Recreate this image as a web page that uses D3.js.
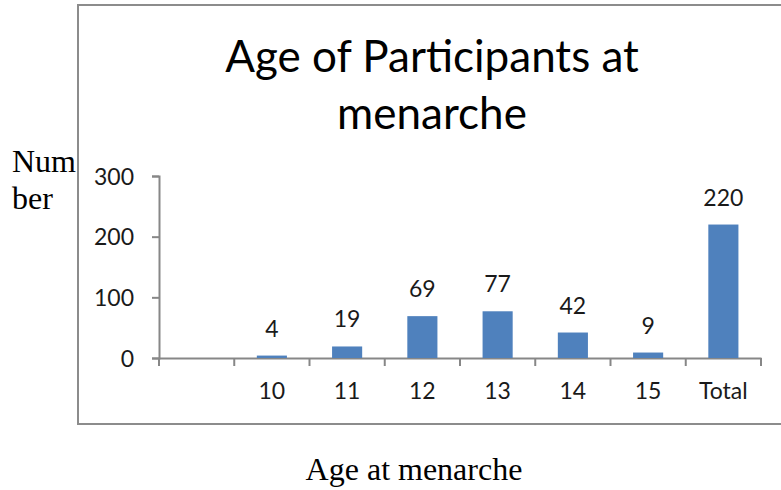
<!DOCTYPE html>
<html>
<head>
<meta charset="utf-8">
<script src="https://cdn.jsdelivr.net/npm/d3@7"></script>
<style>
  body { margin: 0; background: #fff; }
  svg { display: block; }
  .tick text { font-family: Lato, "Open Sans", sans-serif; fill: #1a1a1a; }
</style>
</head>
<body>
<div id="chart"></div>
<script>
"use strict";

// chart values
const categories = ["", "10", "11", "12", "13", "14", "15", "Total"];
const counts = [null, 4, 19, 69, 77, 42, 9, 220];
const yTicks = [0, 100, 200, 300];
const titleLines = ["Age of Participants at", "menarche"];
const yLabelLines = ["Num", "ber"];
const xLabel = "Age at menarche";

const W = 781, H = 490;
const axisColor = "#878787";
const barColor = "#4f81bd";

const svg = d3.select("#chart")
    .append("svg")
    .attr("width", W)
    .attr("height", H);

// outer frame (right side runs off the page)
svg.append("rect")
    .attr("x", 78)
    .attr("y", 5)
    .attr("width", 760)
    .attr("height", 419)
    .attr("fill", "none")
    .attr("stroke", "#8c8c8c")
    .attr("stroke-width", 2);

const xScale = d3.scaleBand()
    .domain(categories)
    .range([159, 761])
    .paddingInner(0.6)
    .paddingOuter(0.3);

const yScale = d3.scaleLinear()
    .domain([0, 300])
    .range([358, 176]);

// title
svg.append("g")
    .selectAll("text")
    .data(titleLines)
    .join("text")
    .attr("x", 432)
    .attr("y", (d, i) => 72 + i * 57)
    .attr("text-anchor", "middle")
    .style("font-family", "Lato, sans-serif")
    .style("font-size", "44px")
    .style("fill", "#000")
    .text(d => d);

// y axis
const yAxis = d3.axisLeft(yScale)
    .tickValues(yTicks)
    .tickSize(7)
    .tickPadding(18);
const gy = svg.append("g")
    .attr("transform", "translate(159,0)")
    .call(yAxis);
gy.selectAll(".domain, .tick line")
    .attr("stroke", axisColor)
    .attr("stroke-width", 2);
gy.selectAll(".tick text")
    .style("font-size", "23px")
    .attr("dy", "0.36em");

// x axis: labels centred on bands, ticks on the boundaries
const xAxis = d3.axisBottom(xScale)
    .tickSize(0)
    .tickPadding(25);
const gx = svg.append("g")
    .attr("transform", "translate(0,358)")
    .call(xAxis);
gx.select(".domain")
    .attr("stroke", axisColor)
    .attr("stroke-width", 2);
gx.selectAll(".tick text")
    .style("font-size", "23px");

const step = xScale.step();
const bounds = d3.range(categories.length + 1).map(i => xScale.range()[0] + i * step);
gx.selectAll(".bound")
    .data(bounds)
    .join("line")
    .attr("class", "bound")
    .attr("x1", d => d)
    .attr("x2", d => d)
    .attr("y1", 0)
    .attr("y2", 8)
    .attr("stroke", axisColor)
    .attr("stroke-width", 2);

// bars
const data = categories.map((c, i) => ({cat: c, value: counts[i]}))
    .filter(d => d.value !== null);

svg.append("g")
    .selectAll("rect")
    .data(data)
    .join("rect")
    .attr("x", d => xScale(d.cat))
    .attr("y", d => yScale(d.value))
    .attr("width", xScale.bandwidth())
    .attr("height", d => yScale(0) - yScale(d.value))
    .attr("fill", barColor);

// value labels
svg.append("g")
    .selectAll("text")
    .data(data)
    .join("text")
    .attr("x", d => xScale(d.cat) + xScale.bandwidth() / 2)
    .attr("y", d => yScale(d.value) - 19)
    .attr("text-anchor", "middle")
    .style("font-family", "Lato, sans-serif")
    .style("font-size", "23px")
    .style("fill", "#1a1a1a")
    .text(d => d.value);

// axis titles (outside the frame, serif)
svg.append("g")
    .selectAll("text")
    .data(yLabelLines)
    .join("text")
    .attr("x", 12)
    .attr("y", (d, i) => 172 + i * 37)
    .style("font-family", "'Liberation Serif', 'DejaVu Serif', serif")
    .style("font-size", "32px")
    .style("fill", "#000")
    .text(d => d);

svg.append("text")
    .attr("x", 414)
    .attr("y", 480)
    .attr("text-anchor", "middle")
    .style("font-family", "'Liberation Serif', 'DejaVu Serif', serif")
    .style("font-size", "32px")
    .style("fill", "#000")
    .text(xLabel);
</script>
</body>
</html>
